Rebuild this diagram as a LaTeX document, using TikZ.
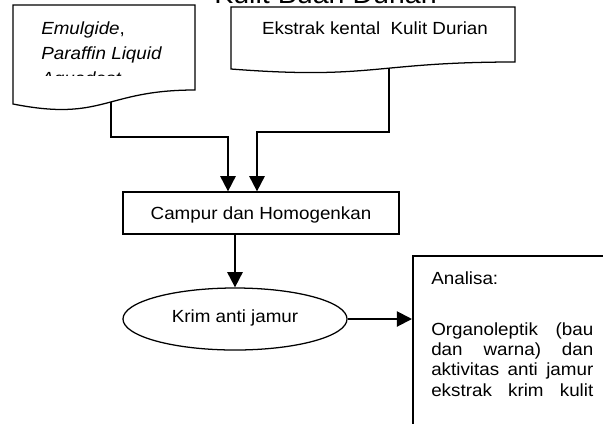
\documentclass[tikz,border=0pt]{standalone}
\usepackage{fontspec}
\setmainfont{Liberation Sans}[FakeStretch=1.07]
\usetikzlibrary{arrows.meta, shapes.geometric, positioning}

\begin{document}
\begin{tikzpicture}[x=0.025cm, y=-0.025cm,
  font=\fontsize{12.5}{15}\selectfont,
  outline/.style={draw, line width=0.9pt},
  flow/.style={line width=1.4pt, -{Triangle[length=0.38cm, width=0.38cm]}},
  txt/.style={inner sep=0pt, anchor=base west}]
\useasboundingbox (0,0) rectangle (603,423);
\clip (0,0) rectangle (603,423);
% Judul (terpotong di tepi atas)
\node[inner sep=0pt, anchor=base west, font=\fontsize{19}{22}\selectfont] (judul) at (214,3.5) {Kulit Buah Durian};
% Bahan
\draw[outline, fill=white] (13,5) -- (195,5) -- (195,90) .. controls (104,90) and (104,122) .. (13,104) coordinate[pos=0.45] (bahan-out) -- cycle;
\begin{scope}
\clip (13,5) rectangle (195,75.5);
\node[txt] (emulgide) at (41,34.3) {\textit{Emulgide},};
\node[txt] (paraffin) at (41,59) {\textit{Paraffin Liquid}};
\node[txt] (aquadest) at (41,84) {\textit{Aquadest}};
\end{scope}
% Ekstrak
\draw[outline, fill=white] (231,7) -- (515,7) -- (515,62) .. controls (373,62) and (373,80) .. (231,69) coordinate[pos=0.425] (ekstrak-out) -- cycle;
\node[inner sep=0pt, anchor=base] (ekstrak) at (375,34.3) {Ekstrak kental\ \ Kulit Durian};
% Proses
\node[outline, minimum width=6.9cm, minimum height=1.05cm, text depth=0pt] (campur) at (261,213) {Campur dan Homogenkan};
\node[outline, ellipse, minimum width=5.6cm, minimum height=1.55cm, inner sep=0pt, text depth=0.45em] (krim) at (235,319) {Krim anti jamur};
% Analisa
\node[outline, line width=1.3pt, anchor=north west, minimum width=5cm, minimum height=5cm] (analisa) at (412,255) {};
\node[txt] (analisa-judul) at (431,284.3) {Analisa:};
\node[txt, text width=4.05cm, align=justify, font=\fontsize{12.5}{14.5}\selectfont] (analisa-isi) at (431,335)
  {\parfillskip=0pt Organoleptik (bau\linebreak dan warna) dan\linebreak aktivitas anti jamur\linebreak ekstrak krim kulit\par};
% Panah
\draw[flow] (bahan-out) -- ++(0,35) -| ([shift={(-33,0)}]campur.north);
\draw[flow] (ekstrak-out) -- ++(0,64) -| ([shift={(-4,0)}]campur.north);
\draw[flow] (campur.south -| krim.north) -- (krim.north);
\draw[flow] (krim.east) -- (krim.east -| analisa.west);
\end{tikzpicture}
\end{document}
